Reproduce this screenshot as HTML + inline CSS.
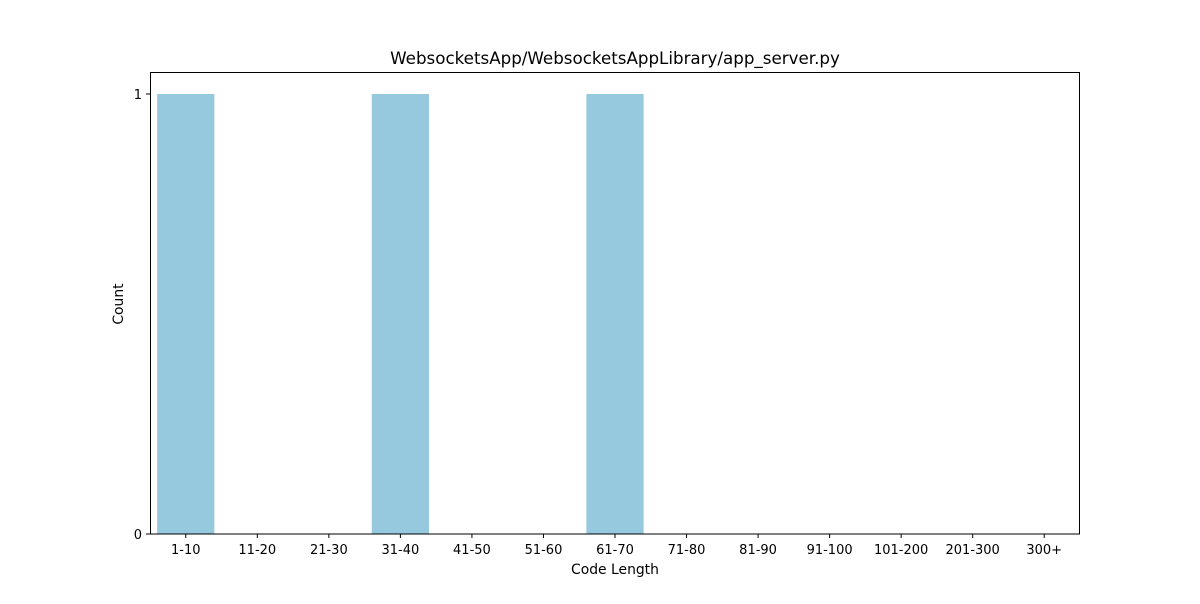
<!DOCTYPE html>
<html><head><meta charset="utf-8"><style>
body{margin:0;background:#fff;font-family:"DejaVu Sans","Liberation Sans",sans-serif;}
</style></head><body>
<svg id="chart" width="1200" height="600" xmlns="http://www.w3.org/2000/svg" font-family="DejaVu Sans, Liberation Sans, sans-serif">
<rect width="1200" height="600" fill="#fff"/>
<text x="615" y="64" text-anchor="middle" font-size="16.7" fill="#000">WebsocketsApp/WebsocketsAppLibrary/app_server.py</text>
<g id="bars"></g>
<g id="xticks"></g>
<g id="yticks"></g>
<rect x="150.5" y="72.5" width="929" height="461.5" fill="none" stroke="#000" stroke-width="1"/>
<text x="615" y="574" text-anchor="middle" font-size="13.9">Code Length</text>
<text x="123" y="304" text-anchor="middle" font-size="13.9" transform="rotate(-90 123 304)">Count</text>
</svg>
<script>
const categories=["1-10","11-20","21-30","31-40","41-50","51-60","61-70","71-80","81-90","91-100","101-200","201-300","300+"];
const counts=[1,0,0,1,0,0,1,0,0,0,0,0,0];
const yTicks=[0,1];
const NS="http://www.w3.org/2000/svg";
const L=150,R=1080,T=72,B=534,yMax=1.05;
const step=(R-L)/categories.length;
const xs=i=>L+(i+0.5)*step;
const ys=v=>B-(v/yMax)*(B-T);
const bars=document.getElementById('bars'),xt=document.getElementById('xticks'),yt=document.getElementById('yticks');
function mk(t,a){const e=document.createElementNS(NS,t);for(const k in a)e.setAttribute(k,a[k]);return e;}
categories.forEach((c,i)=>{
  const w=step*0.8;
  if(counts[i]>0){
    const r=mk('rect',{x:xs(i)-w/2,y:ys(counts[i]),width:w,height:B-ys(counts[i]),fill:'#96c9dd'});
    
    
    bars.appendChild(r);
  }
  const tk=mk('line',{x1:xs(i),x2:xs(i),y1:B,y2:B+4,stroke:'#000'});
  
  
  xt.appendChild(tk);
  const tx=mk('text',{x:xs(i),y:B+20,'text-anchor':'middle','font-size':13});
  tx.textContent=c;
  
  
  xt.appendChild(tx);
});
yTicks.forEach(v=>{
  const tk=mk('line',{x1:L-4,x2:L,y1:ys(v),y2:ys(v),stroke:'#000'});
  
  
  yt.appendChild(tk);
  const tx=mk('text',{x:L-8,y:ys(v)+5,'text-anchor':'end','font-size':13});
  tx.textContent=v;
  
  
  yt.appendChild(tx);
});
</script>
</body></html>
